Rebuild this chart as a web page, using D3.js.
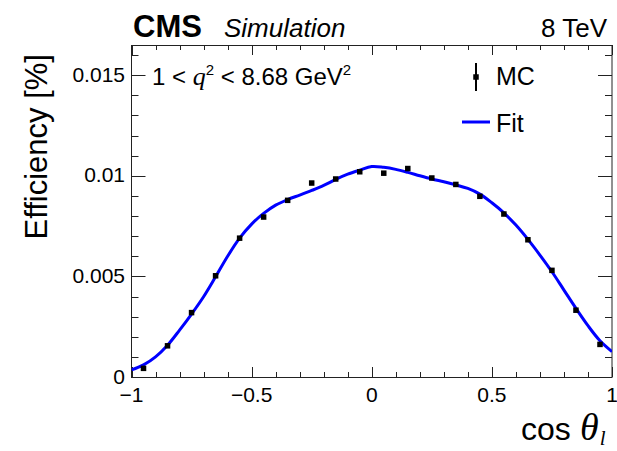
<!DOCTYPE html>
<html>
<head>
<meta charset="utf-8">
<script src="https://cdn.jsdelivr.net/npm/d3@7"></script>
<style>
  html, body { margin: 0; padding: 0; background: #fff; }
  svg { display: block; }
  text { font-family: "Liberation Sans", Arial, Helvetica, sans-serif; fill: #000; }
</style>
</head>
<body>
<svg id="chart" width="617" height="451"></svg>
<script>
// Bin centres in cos(theta_l) and MC efficiency values
const binCenters = [-0.95, -0.85, -0.75, -0.65, -0.55, -0.45, -0.35, -0.25, -0.15, -0.05,
                     0.05,  0.15,  0.25,  0.35,  0.45,  0.55,  0.65,  0.75,  0.85,  0.95];
const mcValues   = [0.00043, 0.00155, 0.0032, 0.00503, 0.0069, 0.00795, 0.00878, 0.00964, 0.00984, 0.0102,
                    0.01013, 0.01036, 0.00989, 0.00957, 0.00898, 0.0081, 0.00682, 0.0053, 0.00332, 0.00162];
const mcErrors   = [0.00004, 0.00006, 0.00008, 0.00009, 0.0001, 0.0001, 0.0001, 0.0001, 0.0001, 0.0001,
                    0.0001, 0.0001, 0.0001, 0.0001, 0.0001, 0.0001, 0.0001, 0.00009, 0.00007, 0.00005];

// Fitted efficiency function sampled along cos(theta_l)
const fitX = [-1, -0.95, -0.9, -0.85, -0.8, -0.75, -0.7, -0.65, -0.6, -0.55, -0.5, -0.45, -0.4, -0.35, -0.3,
              -0.25, -0.2, -0.15, -0.1, -0.05, 0, 0.05, 0.1, 0.15, 0.2, 0.25, 0.3, 0.35, 0.4, 0.45, 0.5,
              0.55, 0.6, 0.65, 0.7, 0.75, 0.8, 0.85, 0.9, 0.95, 1];
const fitY = [0.00035, 0.0006, 0.001, 0.00158, 0.00233, 0.00313, 0.00399, 0.00498, 0.006, 0.0069, 0.0076,
              0.00813, 0.00854, 0.00882, 0.00904, 0.00927, 0.00952, 0.00982, 0.01008, 0.01028, 0.01046,
              0.01042, 0.01032, 0.01017, 0.01, 0.00984, 0.0097, 0.00955, 0.00937, 0.00909, 0.00866,
              0.00816, 0.00755, 0.00684, 0.00606, 0.00523, 0.00432, 0.00341, 0.00255, 0.0018, 0.00126];

// Axis ticks
const xMajorTicks = [-1, -0.5, 0, 0.5, 1];
const xTickLabels = ["\u22121", "\u22120.5", "0", "0.5", "1"];
const yMajorTicks = [0, 0.005, 0.01, 0.015];
const yTickLabels = ["0", "0.005", "0.01", "0.015"];

const svg = d3.select("#chart");
const frame = { left: 131.5, right: 612, top: 45, bottom: 377 };

const x = d3.scaleLinear().domain([-1, 1]).range([frame.left, frame.right]);
const y = d3.scaleLinear().domain([0, 0.0165]).range([frame.bottom, frame.top]);

const xMinor = d3.range(-10, 11).map(i => i / 10);
const yMinor = d3.range(0, 17).map(i => i / 1000);

const axisColor = "#222";

// Frame
svg.append("rect")
  .attr("x", frame.left).attr("y", frame.top + 0.5)
  .attr("width", frame.right - frame.left).attr("height", frame.bottom - frame.top)
  .attr("fill", "none").attr("stroke", axisColor).attr("stroke-width", 1);

// Inward ticks on all four sides
function xTicks(vals, len) {
  const g = svg.append("g").attr("stroke", axisColor).attr("stroke-width", 1);
  vals.forEach(v => {
    const px = Math.round(x(v)) + 0.5;
    g.append("line").attr("x1", px).attr("x2", px).attr("y1", frame.bottom).attr("y2", frame.bottom - len);
    g.append("line").attr("x1", px).attr("x2", px).attr("y1", frame.top).attr("y2", frame.top + len);
  });
}
function yTicks(vals, len) {
  const g = svg.append("g").attr("stroke", axisColor).attr("stroke-width", 1);
  vals.forEach(v => {
    const py = Math.round(y(v)) + 0.5;
    g.append("line").attr("x1", frame.left).attr("x2", frame.left + len).attr("y1", py).attr("y2", py);
    g.append("line").attr("x1", frame.right).attr("x2", frame.right - len).attr("y1", py).attr("y2", py);
  });
}
xTicks(xMinor, 5);
xTicks(xMajorTicks, 10);
yTicks(yMinor, 7);
yTicks(yMajorTicks, 14);

// Tick labels
svg.append("g").selectAll("text").data(xMajorTicks).join("text")
  .attr("x", d => x(d)).attr("y", 402)
  .attr("text-anchor", "middle").attr("font-size", 21)
  .text((d, i) => xTickLabels[i]);

svg.append("g").selectAll("text").data(yMajorTicks).join("text")
  .attr("x", 125).attr("y", d => y(d) + 6.5)
  .attr("text-anchor", "end").attr("font-size", 21)
  .text((d, i) => yTickLabels[i]);

// Axis titles
svg.append("text")
  .attr("transform", "translate(47,54) rotate(-90)")
  .attr("text-anchor", "end").attr("font-size", 31)
  .text("Efficiency [%]");

const xt = svg.append("text").attr("x", 521).attr("y", 440).attr("font-size", 32);
xt.append("tspan").text("cos");
xt.append("tspan").attr("x", 580).attr("font-family", "'Liberation Serif', 'Times New Roman', serif")
  .attr("font-style", "italic").attr("font-size", 38).text("\u03b8");
xt.append("tspan").attr("dy", 5).attr("dx", 1).attr("font-family", "'Liberation Serif', 'Times New Roman', serif")
  .attr("font-style", "italic").attr("font-size", 21).text("l");

// Header
svg.append("text").attr("x", 133).attr("y", 37).attr("font-size", 31).attr("font-weight", "bold").text("CMS");
svg.append("text").attr("x", 224).attr("y", 37).attr("font-size", 26).attr("font-style", "italic").text("Simulation");
svg.append("text").attr("x", 607).attr("y", 37).attr("font-size", 26).attr("text-anchor", "end").text("8 TeV");

// q^2 range label
const ql = svg.append("text").attr("x", 152).attr("y", 85).attr("font-size", 24);
ql.append("tspan").text("1 < ");
ql.append("tspan").attr("font-family", "'Liberation Serif', 'Times New Roman', serif")
  .attr("font-style", "italic").attr("font-size", 26).text("q");
ql.append("tspan").attr("dy", -10).attr("font-size", 15).text("2");
ql.append("tspan").attr("dy", 10).text(" < 8.68 GeV");
ql.append("tspan").attr("dy", -10).attr("font-size", 15).text("2");

// Fit curve
const line = d3.line()
  .x((d, i) => x(fitX[i]))
  .y(d => y(d))
  .curve(d3.curveCatmullRom.alpha(0.5));

const clipId = "plotClip";
svg.append("clipPath").attr("id", clipId).append("rect")
  .attr("x", frame.left).attr("y", frame.top)
  .attr("width", frame.right - frame.left).attr("height", frame.bottom - frame.top);

svg.append("path")
  .datum(fitY)
  .attr("clip-path", `url(#${clipId})`)
  .attr("d", line)
  .attr("fill", "none").attr("stroke", "#0000ff").attr("stroke-width", 3);

// MC points with error bars
const pts = svg.append("g");
pts.selectAll("line").data(mcValues).join("line")
  .attr("x1", (d, i) => x(binCenters[i])).attr("x2", (d, i) => x(binCenters[i]))
  .attr("y1", (d, i) => y(d - mcErrors[i])).attr("y2", (d, i) => y(d + mcErrors[i]))
  .attr("stroke", "#000").attr("stroke-width", 1.5);
pts.selectAll("rect").data(mcValues).join("rect")
  .attr("x", (d, i) => x(binCenters[i]) - 2.75).attr("y", d => y(d) - 2.75)
  .attr("width", 5.5).attr("height", 5.5).attr("fill", "#000");

// Legend
const lg = svg.append("g");
lg.append("line").attr("x1", 476).attr("x2", 476).attr("y1", 63).attr("y2", 91)
  .attr("stroke", "#000").attr("stroke-width", 2);
lg.append("rect").attr("x", 473.25).attr("y", 74.25).attr("width", 5.5).attr("height", 5.5).attr("fill", "#000");
lg.append("text").attr("x", 496).attr("y", 85).attr("font-size", 25).text("MC");
lg.append("line").attr("x1", 462).attr("x2", 490).attr("y1", 122).attr("y2", 122)
  .attr("stroke", "#0000ff").attr("stroke-width", 3);
lg.append("text").attr("x", 496).attr("y", 132).attr("font-size", 25).text("Fit");
</script>
</body>
</html>
